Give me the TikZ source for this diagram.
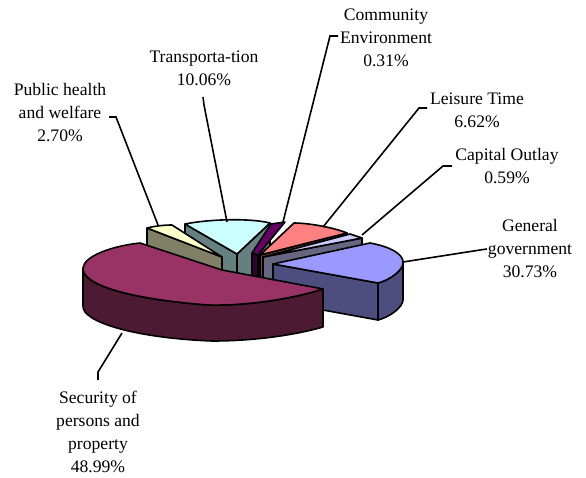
\documentclass[tikz,border=0pt]{standalone}
\usepackage{fontspec}
\setmainfont{Liberation Serif}
\definecolor{gTop}{HTML}{9999FF}\definecolor{gSide}{HTML}{4D4D80}
\definecolor{sTop}{HTML}{993366}\definecolor{sSide}{HTML}{4D1A33}
\definecolor{pTop}{HTML}{FFFFCC}\definecolor{pSide}{HTML}{808066}
\definecolor{tTop}{HTML}{CCFFFF}\definecolor{tSide}{HTML}{668080}
\definecolor{cTop}{HTML}{660066}\definecolor{cSide}{HTML}{330033}
\definecolor{lTop}{HTML}{FF8080}\definecolor{lSide}{HTML}{804040}
\definecolor{kTop}{HTML}{CCCCFF}\definecolor{kSide}{HTML}{666680}
\begin{document}
\begin{tikzpicture}[x=1pt,y=-1pt,
  face/.style={draw=black,line width=1.6pt,line join=round},
  lbl/.style={align=center,font=\fontsize{17.6}{23}\selectfont,inner sep=0pt},
  leader/.style={draw=black,line width=1.6pt,line join=miter}]
\useasboundingbox (0,0) rectangle (586,477);
% ---------- Transportation (back)
\filldraw[face,fill=tSide] (185,224) -- (237,254) -- (237,291) -- (185,261) -- cycle;
\filldraw[face,fill=tSide] (237,254) -- (270,223) -- (270,260) -- (237,291) -- cycle;
\filldraw[face,fill=tTop] (237,254) -- (185,224) .. controls (210,219) and (250,218) .. (270,223) -- cycle;
% ---------- Community Environment
\filldraw[face,fill=cSide] (252,253) -- (258,255) -- (258,292) -- (252,290) -- cycle;
\filldraw[face,fill=cTop] (252,253) -- (271,224) -- (285,222) -- (258,255) -- cycle;
% ---------- Leisure Time
\filldraw[face,fill=lSide] (260,255) -- (347,233) -- (347,270) -- (260,292) -- cycle;
\filldraw[face,fill=lTop] (260,255) -- (294,223) .. controls (310,223) and (335,228) .. (347,233) -- cycle;
% ---------- Capital Outlay
\filldraw[face,fill=kSide] (263,257) -- (362,238) -- (362,275) -- (263,294) -- cycle;
\filldraw[face,fill=kTop] (263,257) -- (350,234) -- (362,238) -- cycle;
% ---------- Public health and welfare
\filldraw[face,fill=pSide] (222,257) -- (147,228) -- (147,265) -- (222,294) -- cycle;
\filldraw[face,fill=pTop] (222,257) -- (147,228) .. controls (155,226) and (164,225) .. (172,225) -- cycle;
% ---------- General government
\filldraw[face,fill=gSide] (273,264) -- (378,283) -- (378,320) -- (273,301) -- cycle;
\filldraw[face,fill=gSide] (378,283) .. controls (390,280) and (403,270) .. (403,263) -- (403,300)
   .. controls (403,307) and (390,317) .. (378,320) -- cycle;
\filldraw[face,fill=gTop] (273,264) -- (370,243) .. controls (392,247) and (404,255) .. (403,263)
   .. controls (403,270) and (390,280) .. (378,283) -- cycle;
% ---------- Security of persons and property
\filldraw[face,fill=sSide] (83,268) .. controls (82,285) and (130,299) .. (208,305)
   .. controls (250,306) and (295,298) .. (323,289) -- (323,327)
   .. controls (295,335) and (255,341) .. (212,341) .. controls (135,338) and (82,322) .. (83,306) -- cycle;
\filldraw[face,fill=sTop] (222,270) -- (140,243) .. controls (112,246) and (84,256) .. (83,268)
   .. controls (82,285) and (130,299) .. (208,305) .. controls (250,306) and (295,298) .. (323,289) -- cycle;
% ---------- labels
\node[lbl] (lblC) at (386,38) {Community\\Environment\\0.31\%};
\node[lbl] (lblT) at (204,68) {Transporta-tion\\10.06\%};
\node[lbl] (lblP) at (60,113) {Public health\\and welfare\\2.70\%};
\node[lbl] (lblL) at (477,110) {Leisure Time\\6.62\%};
\node[lbl] (lblK) at (507,166) {Capital Outlay\\0.59\%};
\node[lbl] (lblG) at (530,249) {General\\government\\30.73\%};
\node[lbl] (lblS) at (98,432) {Security of\\persons and\\property\\48.99\%};
% ---------- leader lines
\coordinate (tC) at (338,36);  \coordinate (kC) at (330,36);  \coordinate (eC) at (283,222);
\coordinate (tT) at (203,97);  \coordinate (kT) at (204,105); \coordinate (eT) at (227,222);
\coordinate (tP) at (109,117); \coordinate (kP) at (116,117); \coordinate (eP) at (158,225);
\coordinate (tL) at (427,108); \coordinate (kL) at (419,108); \coordinate (eL) at (323,227);
\coordinate (tK) at (452,166); \coordinate (kK) at (443,166); \coordinate (eK) at (362,235);
\coordinate (tG) at (487,249); \coordinate (kG) at (480,250); \coordinate (eG) at (403,262);
\coordinate (tS) at (98,380);  \coordinate (kS) at (98,372);  \coordinate (eS) at (122,333);
\foreach \n in {C,T,P,L,K,G,S}{\draw[leader] (t\n) -- (k\n) -- (e\n);}
\end{tikzpicture}
\end{document}
